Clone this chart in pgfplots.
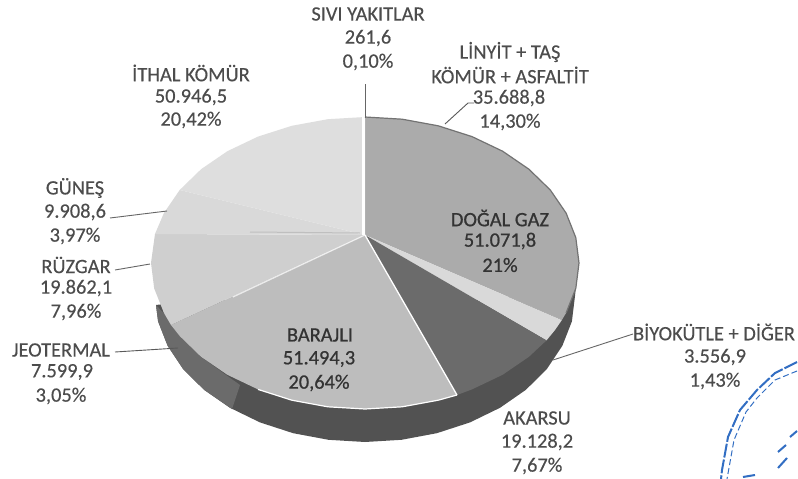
\documentclass[border=0pt]{standalone}
\usepackage{pgfplots}
\pgfplotsset{compat=1.18}
\usepackage{fontspec}
\setmainfont{Carlito}
\newfontfamily\lbl[FakeBold=0.25]{Carlito}
\newfontfamily\lblin[FakeBold=0.7]{Carlito}
\definecolor{txt}{gray}{0.30}
\definecolor{stamp}{RGB}{50,110,195}
\begin{document}
\begin{tikzpicture}
\begin{axis}[scale only axis,width=798pt,height=479pt,xmin=0,xmax=798,ymin=0,ymax=479,y dir=reverse,hide axis,clip=true]
\addplot[draw=none,fill=white] coordinates {(0,0)(798,0)(798,479)(0,479)} -- cycle;
% side wall
\addplot[draw=none,fill=black!68] coordinates {(578,268)(575,296)(571.9,321.4)(562.3,345.9)(546.9,369)(525.9,389.8)(500,407.8)(470,422.4)(436.8,433.2)(401.5,439.8)(365,442)(328.5,439.8)(293.2,433.2)(260,422.4)(230,407.8)(204.1,389.8)(183.1,369)(167.7,345.9)(158.1,321.4)(156,305)(200,300)(500,300)} -- cycle;
\addplot[draw=none,fill=black!58] coordinates {(232,409)(204.1,389.8)(183.1,369)(167.7,345.9)(158.1,321.4)(156,305)(170,320)(201,357)(240,385)} -- cycle;
% linyit + dogal gaz
\addplot[draw=none,fill=black!33] coordinates {(365,235)(365,117)(402.2,119.2)(438.2,125.8)(472,136.6)(502.6,151.2)(528.9,169.2)(550.3,190)(566.1,213.1)(575.8,237.6)(579,263)(575.8,288.4)(566.1,312.9)(561.9,320)} -- cycle;
% biyokutle
\addplot[draw=none,fill=black!15] coordinates {(365,235)(561.9,320)(555,330)(546.5,340.4)} -- cycle;
% akarsu
\addplot[draw=none,fill=black!58] coordinates {(365,235)(546.5,340.4)(528.9,356.8)(502.6,374.8)(472,389.4)(457,395)} -- cycle;
% barajli
\addplot[draw=none,fill=black!26] coordinates {(365,235)(457,395)(438.2,400.2)(402.2,406.8)(365,409)(327.8,406.8)(291.8,400.2)(258,389.4)(227.4,374.8)(201.1,356.8)(179.7,336)(171,325)} -- cycle;
% jeotermal + ruzgar
\addplot[draw=none,fill=black!19] coordinates {(365,235)(171,325)(163.9,312.9)(154.2,288.4)(151,263)(155,234)} -- cycle;
% gunes
\addplot[draw=none,fill=black!15] coordinates {(365,235)(155,234)(163.9,213.1)(179.7,190)} -- cycle;
% ithal komur
\addplot[draw=none,fill=black!13] coordinates {(365,235)(179.7,190)(201.1,169.2)(227.4,151.2)(258,136.6)(291.8,125.8)(327.8,119.2)(365,117)} -- cycle;
% slice edges
\addplot[white,line width=1.3pt] coordinates {(365,235)(457,395)};
\addplot[white,line width=1.2pt,opacity=.7] coordinates {(365,235)(233,297)};
\addplot[white,line width=1.2pt] coordinates {(457,395)(438.2,400.2)(402.2,406.8)(365,409)(327.8,406.8)(291.8,400.2)(258,389.4)};
\addplot[black!25,line width=1pt] coordinates {(250,232)(360,233)};
\addplot[white,line width=2.4pt] coordinates {(363.5,117)(363.5,235)};
\addplot[black!55,line width=1.2pt] coordinates {(365,117)(402.2,119.2)(438.2,125.8)(472,136.6)(502.6,151.2)(528.9,169.2)(550.3,190)(566.1,213.1)(575.8,237.6)(579,263)(575.8,288.4)(566.1,312.9)};
% leaders
\addplot[black!60,line width=.9pt] coordinates {(365,84)(365,118)};
\addplot[black!65,line width=.9pt] coordinates {(445,124)(468,103)(474,103)};
\addplot[black!60,line width=.9pt] coordinates {(110,218)(167,211)};
\addplot[black!60,line width=.9pt] coordinates {(115,270)(150,264)};
\addplot[black!65,line width=.9pt] coordinates {(115,352)(178,348)};
\addplot[black!60,line width=.9pt] coordinates {(553,360)(633,334)};
% stamp
\addplot[stamp,line width=2pt,dash pattern=on 14pt off 2pt] coordinates {(797,362)(775,373)(757,390)(740,410)(728,437)(722,470)(721,479)};
\addplot[stamp,line width=1pt,dash pattern=on 6pt off 3pt] coordinates {(797,371)(775,380)(757,398)(746,412)(734,440)(727,479)};
\addplot[stamp,line width=2pt] coordinates {(790,437)(797,431)};
\addplot[stamp,line width=2pt] coordinates {(778,452)(786,445)};
\addplot[stamp,line width=2pt] coordinates {(778,468)(787,458)};
\addplot[stamp,line width=2pt] coordinates {(743,477)(755,475)};
% labels
\begin{scope}[every node/.style={font=\lbl\fontsize{20.4pt}{24pt}\selectfont,text=txt,anchor=center,inner sep=0pt}]
\node at (axis cs:368,14) {SIVI YAKITLAR};
\node at (axis cs:368,38) {261,6};
\node at (axis cs:368,62) {0,10\%};
\node at (axis cs:510,52) {LİNYİT + TAŞ};
\node at (axis cs:510,75) {KÖMÜR + ASFALTİT};
\node at (axis cs:509,98) {35.688,8};
\node at (axis cs:510,122) {14,30\%};
\node at (axis cs:191,73) {İTHAL KÖMÜR};
\node at (axis cs:191,97) {50.946,5};
\node at (axis cs:191,120) {20,42\%};
\node at (axis cs:75,188) {GÜNEŞ};
\node at (axis cs:75,212) {9.908,6};
\node at (axis cs:75,236) {3,97\%};
\node at (axis cs:76,265) {RÜZGAR};
\node at (axis cs:76,288) {19.862,1};
\node at (axis cs:76,312) {7,96\%};
\node at (axis cs:61,350) {JEOTERMAL};
\node at (axis cs:62,372) {7.599,9};
\node at (axis cs:61,396) {3,05\%};
\node at (axis cs:537,418) {AKARSU};
\node at (axis cs:537,442) {19.128,2};
\node at (axis cs:537,466) {7,67\%};
\node at (axis cs:714,332) {BİYOKÜTLE + DİĞER};
\node at (axis cs:715,357) {3.556,9};
\node at (axis cs:715,381) {1,43\%};
\node[font=\lblin\fontsize{20.4pt}{24pt}\selectfont,text=black!80] at (axis cs:500,218) {DOĞAL GAZ};
\node[font=\lblin\fontsize{20.4pt}{24pt}\selectfont,text=black!80] at (axis cs:500,241) {51.071,8};
\node[font=\lblin\fontsize{20.4pt}{24pt}\selectfont,text=black!80] at (axis cs:500,265) {21\%};
\node[font=\lblin\fontsize{20.4pt}{24pt}\selectfont,text=black!80] at (axis cs:320,335) {BARAJLI};
\node[font=\lblin\fontsize{20.4pt}{24pt}\selectfont,text=black!80] at (axis cs:319,359) {51.494,3};
\node[font=\lblin\fontsize{20.4pt}{24pt}\selectfont,text=black!80] at (axis cs:319,383) {20,64\%};
\end{scope}
\end{axis}
\end{tikzpicture}
\end{document}
